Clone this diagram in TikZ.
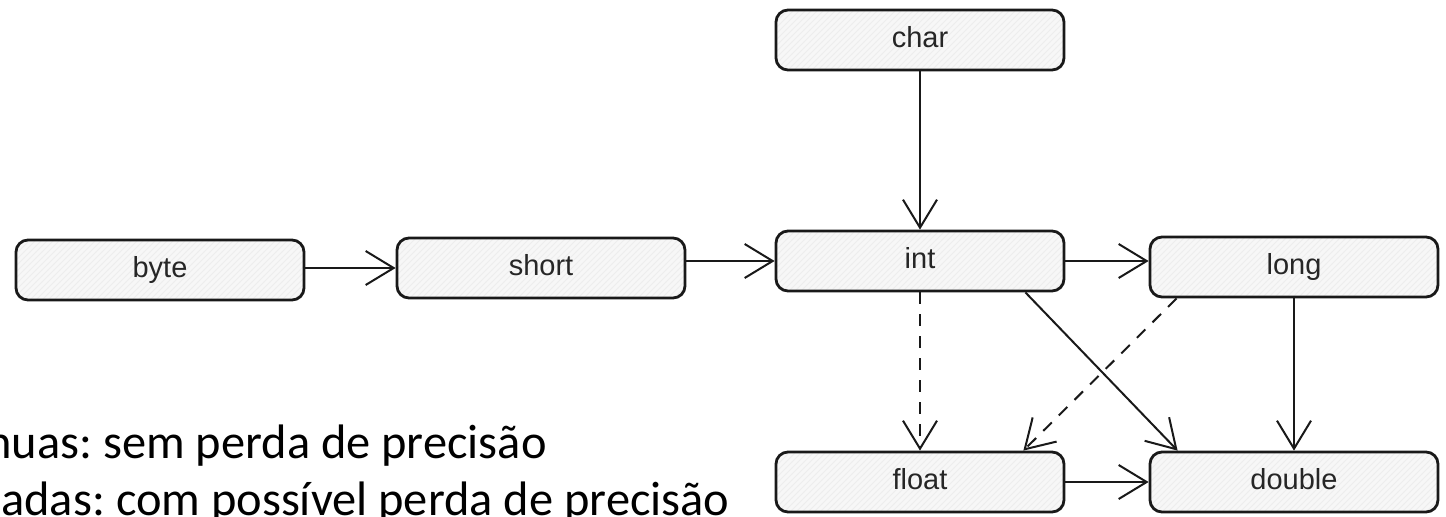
\documentclass[tikz,border=0pt]{standalone}
\usepackage{fontspec}
\setmainfont{Liberation Sans}
\newfontfamily\notefont{Carlito}
\usetikzlibrary{arrows.meta,patterns}

\begin{document}
\begin{tikzpicture}[x=0.5pt,y=-0.5pt,
  typebox/.style={
    preaction={fill=black!3},
    preaction={pattern=north east lines, pattern color=black!7},
    draw=black!90, line width=1.4pt, rounded corners=6pt,
    minimum width=144pt, minimum height=30pt, inner sep=0pt,
    text height=0.72em, text depth=0pt,
    font=\fontsize{14.5}{17}\selectfont, text=black!85},
  conv/.style={draw=black!90, line width=1pt,
    -{Straight Barb[length=14pt,width=17pt,line width=1pt]}},
  lossy/.style={conv, dash pattern=on 6pt off 5pt},
  note/.style={font=\notefont\fontsize{24.2}{29}\selectfont\frenchspacing,
    anchor=base west, inner sep=0pt}
]
\useasboundingbox (0,0) rectangle (1446,516);
\clip (0,0) rectangle (1446,516);

% primitive types
\node[typebox] (byte)   at (160,270)  {byte};
\node[typebox] (short)  at (541,268)  {short};
\node[typebox] (char)   at (920,40)   {char};
\node[typebox] (int)    at (920,261)  {int};
\node[typebox] (long)   at (1294,267) {long};
\node[typebox] (float)  at (920,482)  {float};
\node[typebox] (double) at (1294,482) {double};

% widening conversions
\draw[conv] (byte.east |- short.west) -- (short.west);
\draw[conv] (short.east |- int.west) -- (int.west);
\draw[conv] (int.east) -- (int.east -| long.west);
\draw[conv] (char.south) -- (int.north);
\draw[lossy] (int.south) -- (float.north);
\draw[conv] ([xshift=-20pt]int.south east) -- ([xshift=14.5pt]double.north west);
\draw[lossy] ([xshift=14pt]long.south west) -- ([xshift=-21pt]float.north east);
\draw[conv] (long.south) -- (double.north);
\draw[conv] (float.east) -- (double.west);

% legend
\node[note] (solidnote) at (-14,458) {nuas: sem perda de precisão};
\node[note] (dashnote)  at (1,515)   {adas: com possível perda de precisão};
\end{tikzpicture}
\end{document}
